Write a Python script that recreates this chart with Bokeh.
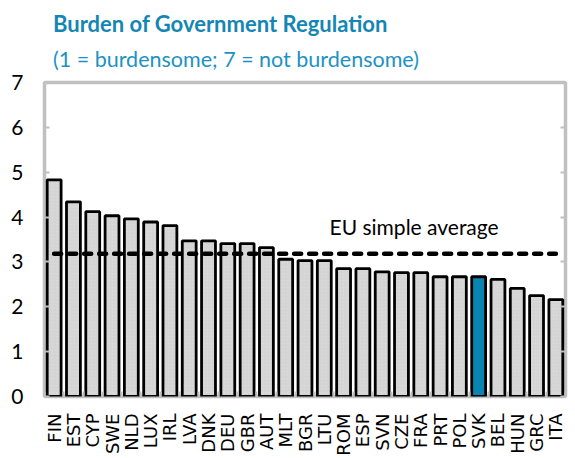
import numpy as np
from bokeh.plotting import figure
from bokeh.models import ColumnDataSource, FixedTicker, LinearAxis, Range1d, Title
from bokeh.core.properties import value
from bokeh.embed import file_html
from bokeh.resources import INLINE

countries = ["FIN", "EST", "CYP", "SWE", "NLD", "LUX", "IRL", "LVA", "DNK", "DEU",
             "GBR", "AUT", "MLT", "BGR", "LTU", "ROM", "ESP", "SVN", "CZE", "FRA",
             "PRT", "POL", "SVK", "BEL", "HUN", "GRC", "ITA"]
scores = [4.83, 4.34, 4.12, 4.03, 3.96, 3.89, 3.81, 3.47, 3.47, 3.41,
          3.41, 3.32, 3.06, 3.03, 3.03, 2.85, 2.85, 2.78, 2.76, 2.76,
          2.67, 2.67, 2.67, 2.61, 2.41, 2.25, 2.16]
highlight = "SVK"
eu_average = 3.18
y_ticks = [0, 1, 2, 3, 4, 5, 6, 7]

title_text = "Burden of Government Regulation"
subtitle_text = "(1 = burdensome; 7 = not burdensome)"
avg_label = "EU simple average"

BLUE = "#1486b4"
GREY_FILL = "#dcdcdc"

n = len(countries)
xs = [i + 0.5 for i in range(n)]
fills = ["#0a84b2" if c == highlight else GREY_FILL for c in countries]
hatches = [" " if c == highlight else "/" for c in countries]
src = ColumnDataSource(dict(x=xs, top=scores, fill=fills, hatch=hatches, name=countries))

p = figure(width=575, height=458, x_range=Range1d(0, n), y_range=Range1d(0, 7),
           output_backend="svg", toolbar_location=None,
           min_border_left=44, min_border_right=10, min_border_top=82, min_border_bottom=40)
p.background_fill_color = "white"
p.border_fill_color = "white"
p.grid.visible = False
p.outline_line_color = "#c0c0c0"
p.outline_line_width = 3.5

p.vbar(x="x", top="top", bottom=0, width=0.72, source=src,
       fill_color="fill", line_color="black", line_width=2.8,
       hatch_pattern="hatch", hatch_color="#c6c6c6", hatch_scale=3.5, hatch_weight=0.6)

p.line(x=[xs[0], xs[-1]], y=[eu_average, eu_average], line_color="black",
       line_width=4.5, line_dash="7 8", line_cap="round")

p.text(x=[14.77], y=[eu_average + 0.6], text=[avg_label], text_font=value("Lato"),
       text_font_size="21px", text_color="black", text_baseline="alphabetic",
       text_align="left")

# y axis
yax = p.yaxis[0]
yax.ticker = FixedTicker(ticks=y_ticks)
yax.axis_line_color = None
yax.major_tick_line_color = "#c0c0c0"
yax.major_tick_line_width = 2
yax.major_tick_in = 5
yax.major_tick_out = 0
yax.minor_tick_line_color = None
yax.major_label_standoff = 21
yax.major_label_text_font = "Lato"
yax.major_label_text_font_size = "21px"
yax.major_label_text_color = "black"

rax = LinearAxis(ticker=FixedTicker(ticks=y_ticks), axis_line_color=None,
                 major_tick_line_color="#c0c0c0", major_tick_line_width=2,
                 major_tick_in=5, major_tick_out=0, minor_tick_line_color=None,
                 major_label_overrides={t: "" for t in y_ticks},
                 major_label_standoff=0)
p.add_layout(rax, "right")

# x axis
xax = p.xaxis[0]
xax.ticker = FixedTicker(ticks=xs, minor_ticks=list(range(n + 1)))
xax.major_label_overrides = {x: c for x, c in zip(xs, countries)}
xax.axis_line_color = None
xax.major_tick_line_color = None
xax.minor_tick_line_color = "#c0c0c0"
xax.minor_tick_line_width = 2
xax.minor_tick_in = 5
xax.minor_tick_out = 0
xax.major_label_orientation = np.pi / 2
xax.major_label_standoff = 11
xax.major_label_text_font = "DejaVu Sans"
xax.major_label_text_font_size = "18px"
xax.major_label_text_color = "black"

p.add_layout(Title(text=subtitle_text, text_font="Lato", text_font_size="21.5px",
                   text_font_style="normal", text_color="#1d92c2", offset=8.5,
                   standoff=17, vertical_align="top"), "above")
p.add_layout(Title(text=title_text, text_font="Lato", text_font_size="22px",
                   text_font_style="bold", text_color=BLUE, offset=8.5,
                   standoff=2), "above")

open("out.html", "w").write(file_html(p, INLINE))
